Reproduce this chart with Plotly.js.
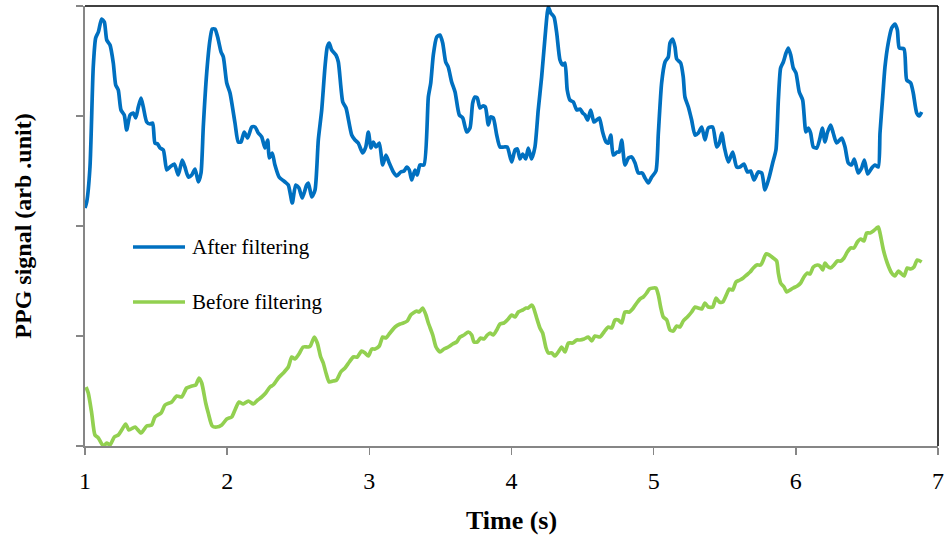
<!DOCTYPE html>
<html>
<head>
<meta charset="utf-8">
<script src="https://cdn.plot.ly/plotly-3.0.1.min.js"></script>
<style>html,body{margin:0;padding:0;background:#fff}#chart{width:945px;height:539px}</style>
</head>
<body>
<div id="chart"></div>
<script>
// Time axis (s) and PPG signal in arbitrary units (0..440)
const afterT = [1.000,1.012,1.035,1.058,1.075,1.094,1.117,1.136,1.153,1.176,1.199,1.216,1.234,1.253,1.276,1.293,1.317,1.340,1.357,1.375,1.394,1.410,1.434,1.457,1.476,1.492,1.511,1.528,1.551,1.575,1.598,1.628,1.656,1.684,1.703,1.727,1.751,1.774,1.797,1.816,1.832,1.856,1.879,1.895,1.914,1.933,1.957,1.973,1.997,2.020,2.055,2.078,2.097,2.120,2.144,2.173,2.196,2.219,2.243,2.266,2.285,2.296,2.317,2.336,2.365,2.407,2.430,2.458,2.482,2.505,2.528,2.559,2.571,2.595,2.618,2.641,2.665,2.688,2.704,2.718,2.735,2.765,2.782,2.813,2.836,2.876,2.899,2.922,2.953,2.975,2.993,3.012,3.028,3.047,3.070,3.094,3.117,3.140,3.169,3.192,3.221,3.244,3.263,3.281,3.298,3.321,3.337,3.356,3.384,3.415,3.432,3.450,3.474,3.497,3.516,3.537,3.555,3.579,3.603,3.633,3.657,3.685,3.708,3.727,3.743,3.759,3.778,3.797,3.816,3.837,3.854,3.872,3.896,3.919,3.947,3.970,4.001,4.025,4.041,4.060,4.079,4.100,4.118,4.141,4.165,4.188,4.212,4.236,4.259,4.276,4.299,4.318,4.341,4.360,4.376,4.392,4.411,4.435,4.459,4.482,4.501,4.517,4.536,4.557,4.580,4.599,4.618,4.641,4.665,4.681,4.698,4.716,4.744,4.758,4.775,4.798,4.822,4.845,4.869,4.892,4.920,4.939,4.962,4.986,5.016,5.033,5.056,5.080,5.103,5.115,5.134,5.150,5.162,5.190,5.208,5.220,5.244,5.267,5.291,5.314,5.338,5.361,5.384,5.415,5.443,5.462,5.479,5.497,5.525,5.556,5.584,5.607,5.635,5.659,5.682,5.706,5.736,5.760,5.783,5.813,5.837,5.860,5.877,5.893,5.912,5.931,5.947,5.964,5.982,6.001,6.024,6.048,6.071,6.088,6.104,6.123,6.147,6.170,6.186,6.205,6.221,6.245,6.263,6.287,6.323,6.346,6.369,6.393,6.411,6.439,6.463,6.482,6.505,6.534,6.557,6.580,6.592,6.611,6.627,6.650,6.674,6.697,6.714,6.728,6.761,6.780,6.808,6.826,6.850,6.868,6.885];
const afterY = [238,244,279,379,408,414,427,424,406,401,383,361,356,336,331,316,331,333,328,339,348,339,324,322,323,303,302,298,296,276,279,282,271,286,279,269,271,277,264,273,319,373,406,417,417,409,394,389,363,353,323,304,304,314,308,319,319,313,309,298,306,288,293,281,269,264,261,243,261,258,248,261,263,249,256,306,336,379,399,403,396,391,384,344,338,311,306,303,293,299,314,298,304,299,303,281,291,283,274,270,274,275,279,276,266,276,271,281,281,349,363,391,409,411,403,384,379,364,354,331,328,314,318,343,349,348,338,340,339,321,329,328,311,299,299,299,284,296,297,287,292,287,298,287,299,336,369,409,439,433,429,413,386,381,383,356,346,344,336,337,333,331,326,336,324,326,328,314,304,303,311,291,294,294,306,281,288,289,283,273,273,268,263,269,275,313,363,384,389,403,407,399,387,383,369,349,339,326,311,313,319,306,318,319,299,303,313,299,284,294,279,279,282,274,275,266,274,273,256,269,283,296,346,378,384,393,398,391,378,373,354,346,314,318,313,299,298,308,318,304,313,321,313,303,308,299,283,281,287,273,278,286,272,278,281,279,313,349,379,403,418,422,416,398,397,366,363,353,333,330,334];

const beforeT = [1.007,1.023,1.047,1.070,1.094,1.129,1.153,1.176,1.206,1.234,1.258,1.286,1.309,1.352,1.394,1.434,1.469,1.492,1.535,1.563,1.610,1.645,1.680,1.715,1.751,1.779,1.802,1.821,1.849,1.867,1.895,1.926,1.962,1.997,2.032,2.055,2.083,2.113,2.149,2.184,2.215,2.243,2.271,2.301,2.324,2.360,2.395,2.430,2.454,2.477,2.505,2.535,2.571,2.585,2.613,2.634,2.658,2.676,2.695,2.718,2.746,2.770,2.799,2.829,2.859,2.887,2.915,2.946,2.970,2.993,3.017,3.040,3.070,3.094,3.117,3.145,3.181,3.216,3.239,3.267,3.291,3.309,3.333,3.351,3.375,3.398,3.415,3.446,3.469,3.497,3.525,3.555,3.586,3.614,3.638,3.666,3.696,3.720,3.736,3.759,3.783,3.806,3.830,3.849,3.872,3.896,3.919,3.947,3.977,4.001,4.025,4.048,4.079,4.102,4.118,4.142,4.153,4.177,4.200,4.219,4.243,4.259,4.283,4.306,4.329,4.353,4.376,4.400,4.430,4.459,4.482,4.510,4.540,4.564,4.587,4.622,4.651,4.681,4.705,4.728,4.751,4.775,4.798,4.829,4.857,4.881,4.904,4.927,4.951,4.970,4.997,5.016,5.033,5.049,5.068,5.092,5.115,5.138,5.162,5.185,5.208,5.237,5.267,5.291,5.314,5.338,5.361,5.384,5.415,5.439,5.462,5.486,5.514,5.532,5.556,5.579,5.607,5.630,5.654,5.678,5.701,5.725,5.753,5.771,5.790,5.813,5.841,5.865,5.877,5.893,5.917,5.936,5.959,5.982,6.010,6.034,6.057,6.081,6.100,6.123,6.151,6.170,6.189,6.205,6.221,6.245,6.268,6.292,6.316,6.339,6.362,6.386,6.409,6.433,6.457,6.479,6.498,6.522,6.545,6.569,6.580,6.592,6.616,6.643,6.674,6.697,6.721,6.737,6.761,6.784,6.808,6.831,6.854,6.885];
const beforeY = [59,53,33,11,8,0,3,1,9,11,16,22,16,19,13,20,21,29,33,41,44,50,49,58,60,61,68,63,43,33,20,19,21,27,29,36,44,42,45,42,46,49,53,59,61,68,73,79,89,87,92,99,99,100,109,103,89,83,73,64,65,66,74,78,84,89,89,95,93,90,97,97,100,109,108,113,119,122,123,125,131,133,135,134,138,131,123,111,99,94,97,99,102,104,109,111,114,111,104,104,108,107,111,113,111,116,122,123,127,131,129,134,136,138,138,141,139,128,118,113,98,93,93,90,94,99,94,103,103,106,106,107,109,105,110,109,114,119,118,126,126,123,134,134,138,143,147,149,153,157,158,158,151,139,129,126,116,115,120,119,125,129,134,139,138,137,143,139,139,148,144,144,152,157,156,164,166,168,171,174,178,181,181,186,192,191,188,185,173,163,159,154,156,158,160,163,169,173,172,179,181,180,176,183,180,178,181,185,185,188,194,198,198,204,207,205,213,213,215,218,219,213,196,183,173,170,175,173,170,178,177,179,186,184];

const seriesNames = ["After filtering", "Before filtering"];
const seriesColors = ["#0070C0", "#92D050"];
const xTickVals = [1,2,3,4,5,6,7];
const yTickVals = [0,110,220,330,440];
const xTitle = "Time (s)";
const yTitle = "PPG signal (arb .unit)";

const serif = "Liberation Serif, Times New Roman, serif";

const traces = [
  {x: afterT, y: afterY, name: seriesNames[0], type: "scatter", mode: "lines",
   line: {color: seriesColors[0], width: 3.7, shape: "spline", smoothing: 0.6}, showlegend: false, hoverinfo: "skip"},
  {x: beforeT, y: beforeY, name: seriesNames[1], type: "scatter", mode: "lines",
   line: {color: seriesColors[1], width: 3.7, shape: "spline", smoothing: 0.6}, showlegend: false, hoverinfo: "skip"}
];

// manual legend geometry (paper coords)
const legX0 = (133-85)/853, legX1 = (185-85)/853, legTX = (190-85)/853;
const legY = [(446-247)/440, (446-302)/440];

const layout = {
  width: 945, height: 539,
  margin: {l: 85, r: 7, t: 6, b: 93},
  paper_bgcolor: "#fff", plot_bgcolor: "#fff",
  showlegend: false,
  xaxis: {
    range: [1, 7], tickvals: xTickVals, ticktext: xTickVals.map(String),
    showgrid: false, zeroline: false, showline: true, linecolor: "#868686", linewidth: 2,
    ticks: "outside", ticklen: 7, tickwidth: 1.5, tickcolor: "#868686",
    tickfont: {family: serif, size: 24, color: "#000"},
    ticklabelstandoff: 5,
    title: {text: xTitle, font: {family: serif, size: 26, color: "#000", weight: "bold"}, standoff: 18}
  },
  yaxis: {
    range: [0, 440], tickvals: yTickVals, showticklabels: false,
    showgrid: false, zeroline: false, showline: true, linecolor: "#868686", linewidth: 2,
    ticks: "outside", ticklen: 7, tickwidth: 1.5, tickcolor: "#868686",
    title: {text: yTitle, font: {family: serif, size: 24, color: "#000", weight: "bold"}, standoff: 38}
  },
  shapes: [
    {type: "line", xref: "paper", yref: "paper", x0: 0, x1: 1, y0: 1, y1: 1, line: {color: "#000", width: 1.5}},
    {type: "line", xref: "paper", yref: "paper", x0: 1, x1: 1, y0: 0, y1: 1, line: {color: "#000", width: 1.5}},
    {type: "line", xref: "paper", yref: "paper", x0: legX0, x1: legX1, y0: legY[0], y1: legY[0], line: {color: seriesColors[0], width: 3.7}},
    {type: "line", xref: "paper", yref: "paper", x0: legX0, x1: legX1, y0: legY[1], y1: legY[1], line: {color: seriesColors[1], width: 3.7}}
  ],
  annotations: [
    {xref: "paper", yref: "paper", x: legTX, y: legY[0], xanchor: "left", yanchor: "middle", showarrow: false,
     text: seriesNames[0], font: {family: serif, size: 21, color: "#000"}},
    {xref: "paper", yref: "paper", x: legTX, y: legY[1], xanchor: "left", yanchor: "middle", showarrow: false,
     text: seriesNames[1], font: {family: serif, size: 21, color: "#000"}}
  ]
};

Plotly.newPlot("chart", traces, layout, {staticPlot: true, displayModeBar: false});
</script>
</body>
</html>
